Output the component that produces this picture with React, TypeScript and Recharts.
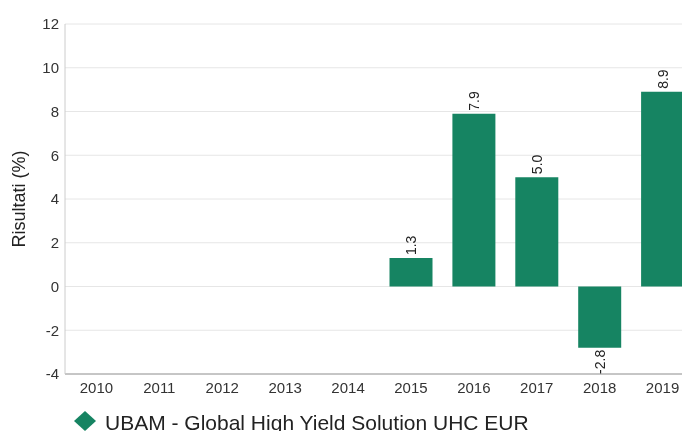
import React from 'react';
import { BarChart, Bar, XAxis, YAxis, CartesianGrid, Legend, LabelList, Label } from 'recharts';

const years = ['2010', '2011', '2012', '2013', '2014', '2015', '2016', '2017', '2018', '2019'];
const returns: (number | null)[] = [null, null, null, null, null, 1.3, 7.9, 5.0, -2.8, 8.9];
const yTicks = [-4, -2, 0, 2, 4, 6, 8, 10, 12];
const seriesName = 'UBAM - Global High Yield Solution UHC EUR';
const yAxisTitle = 'Risultati (%)';

const data = years.map((year, i) => ({ year, value: returns[i] }));

const GREEN = '#168462';
const TEXT = '#333333';

const renderValueLabel = (props: any) => {
  const { x, y, width, height, value } = props;
  if (value === null || value === undefined) return null;
  const v = Number(value);
  const cx = Number(x) + Number(width) / 2;
  const y1 = Number(y);
  const y2 = Number(y) + Number(height);
  const top = Math.min(y1, y2);
  const bottom = Math.max(y1, y2);
  const pos = v >= 0;
  const ay = pos ? top - 3 : bottom + 2;
  return (
    <text
      x={cx}
      y={ay}
      transform={`rotate(-90, ${cx}, ${ay})`}
      textAnchor={pos ? 'start' : 'end'}
      dominantBaseline="central"
      fontSize={14}
      fill="#222"
    >
      {v.toFixed(1)}
    </text>
  );
};

const renderYTitle = (props: any) => {
  const vb = props.viewBox || {};
  const cx = 11;
  const cy = Number(vb.y) + Number(vb.height) / 2;
  return (
    <text
      x={cx}
      y={cy}
      transform={`rotate(-90, ${cx}, ${cy})`}
      textAnchor="middle"
      dominantBaseline="central"
      fontSize={18}
      fill="#222"
    >
      {yAxisTitle}
    </text>
  );
};

const renderLegend = () => (
  <svg width={690} height={27} style={{ display: 'block', overflow: 'visible' }}>
    <polygon points="77,7 88,17 77,27 66,17" fill={GREEN} />
    <text x={97} y={26} fontSize={21} fill="#222">
      {seriesName}
    </text>
  </svg>
);

export default function App() {
  return (
    <div
      style={{
        position: 'fixed',
        left: 8,
        top: 8,
        width: 674,
        height: 423,
        overflow: 'hidden',
        fontFamily: '"Liberation Sans", Arial, sans-serif',
      }}
    >
      <BarChart
        width={690}
        height={423}
        data={data}
        margin={{ top: 16, right: 4, bottom: 0, left: 0 }}
      >
        <CartesianGrid horizontal vertical={false} stroke="#e6e6e6" />
        <XAxis
          dataKey="year"
          height={30}
          tickLine={false}
          tickSize={0}
          tickMargin={8}
          axisLine={{ stroke: '#999999' }}
          tick={{ fontSize: 15, fill: TEXT }}
          interval={0}
        />
        <YAxis
          width={57}
          domain={[-4, 12]}
          ticks={yTicks}
          tickLine={false}
          tickSize={0}
          tickMargin={6}
          axisLine={{ stroke: '#cccccc' }}
          tick={{ fontSize: 15, fill: TEXT }}
          allowDataOverflow
        >
          <Label content={renderYTitle} />
        </YAxis>
        <Legend
          verticalAlign="bottom"
          align="left"
          content={renderLegend}
          wrapperStyle={{ left: 0, width: 690, height: 27 }}
        />
        <Bar dataKey="value" name={seriesName} fill={GREEN} barSize={43} isAnimationActive={false}>
          <LabelList dataKey="value" content={renderValueLabel} />
        </Bar>
      </BarChart>
    </div>
  );
}
